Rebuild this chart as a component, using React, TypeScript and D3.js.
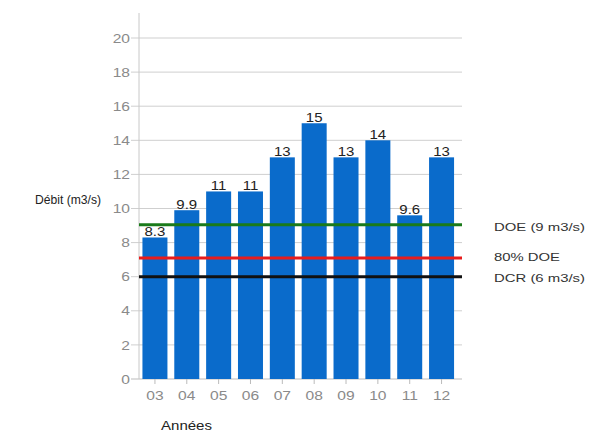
import React from "react";
import * as d3 from "d3";

const years = ["03", "04", "05", "06", "07", "08", "09", "10", "11", "12"];
const debit = [8.3, 9.9, 11, 11, 13, 15, 13, 14, 9.6, 13];
const valueLabels = ["8.3", "9.9", "11", "11", "13", "15", "13", "14", "9.6", "13"];
const yTicks = [0, 2, 4, 6, 8, 10, 12, 14, 16, 18, 20];
const refNames = ["DOE (9 m3/s)", "80% DOE", "DCR (6 m3/s)"];
const refValues = [9.05, 7.1, 6];
const refColors = ["#1a7a1a", "#e81c1c", "#111111"];

export default function App() {
  const W = 589, H = 433;
  const left = 139, gridRight = 462;
  const x = d3.scaleBand<string>().domain(years).range([139, 457.5]).paddingInner(0.215).paddingOuter(0.108);
  const y = d3.scaleLinear().domain([0, 20]).range([379, 38]);
  const font = "'Liberation Sans', Arial, sans-serif";
  const sx = 1.2;
  const refLabelY = [227, 257, 278];
  const refLen = [91, 66, 91];
  return (
    <svg width={W} height={H} style={{ position: "absolute", left: 0, top: 0, background: "#fff" }} fontFamily={font}>
      {yTicks.map((t) => (
        <g key={t}>
          <line x1={left - 8} x2={gridRight} y1={y(t)} y2={y(t)} stroke={t === 0 ? "#bbb" : "#cfcfcf"} strokeWidth={1} />
          <text transform={`translate(${left - 9},${y(t)}) scale(${sx},1)`} dy="0.36em" textAnchor="end" fontSize={13} fill="#8a8a8a">{t}</text>
        </g>
      ))}
      <line x1={left} x2={left} y1={13} y2={379} stroke="#c8c8c8" />
      {years.map((yr, i) => {
        const cx = x(yr)! + x.bandwidth() / 2;
        return (
          <g key={yr}>
            <rect x={x(yr)!} y={y(debit[i])} width={x.bandwidth()} height={y(0) - y(debit[i])} fill="#0a6bcb" />
            <text transform={`translate(${cx},${y(debit[i]) - 1}) scale(${sx},1)`} textAnchor="middle" fontSize={12.5} fill="#222">{valueLabels[i]}</text>
            <line x1={cx} x2={cx} y1={379} y2={384} stroke="#bbb" />
            <text transform={`translate(${cx},${399.5}) scale(${sx},1)`} textAnchor="middle" fontSize={13} fill="#8a8a8a">{yr}</text>
          </g>
        );
      })}
      {refValues.map((v, i) => (
        <g key={refNames[i]}>
          <line x1={left} x2={gridRight} y1={y(v)} y2={y(v)} stroke={refColors[i]} strokeWidth={3} />
          <text x={494} y={refLabelY[i]} dy="0.35em" fontSize={11.5} fill="#333" textLength={refLen[i]} lengthAdjust="spacingAndGlyphs">{refNames[i]}</text>
        </g>
      ))}
      <text x={35} y={199} dy="0.35em" fontSize={13} fill="#222" textLength={66} lengthAdjust="spacingAndGlyphs">Débit (m3/s)</text>
      <text x={161} y={425} dy="0.35em" fontSize={13.5} fill="#222" textLength={51} lengthAdjust="spacingAndGlyphs">Années</text>
    </svg>
  );
}
